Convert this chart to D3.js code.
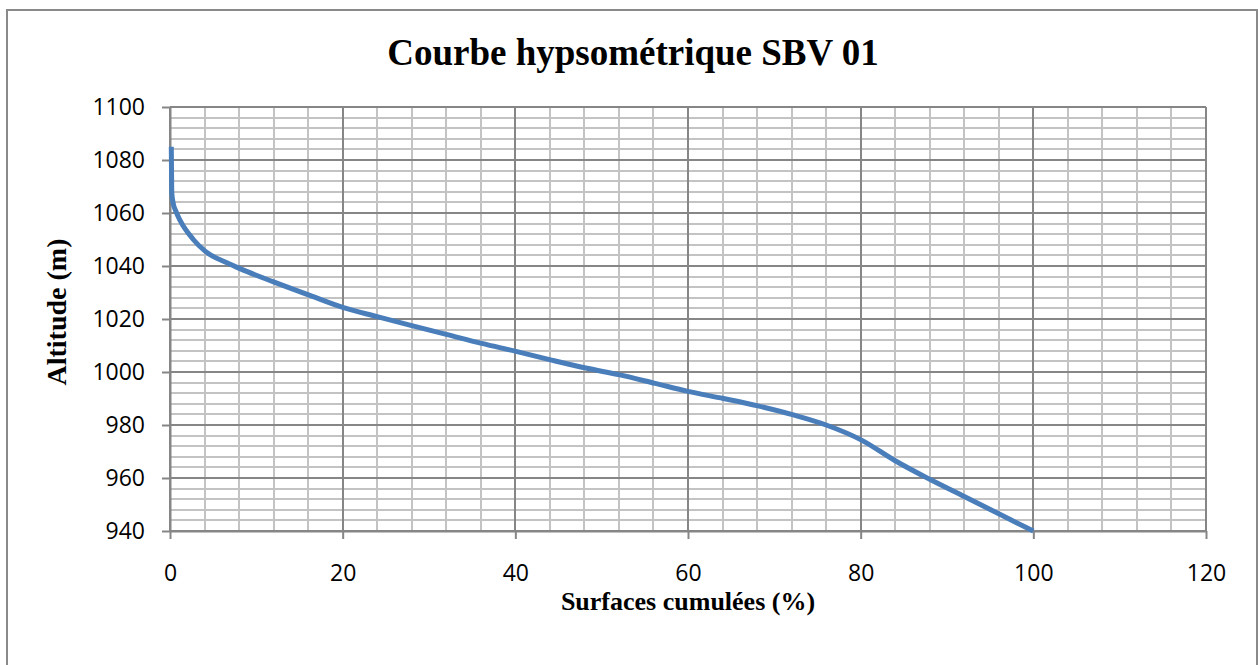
<!DOCTYPE html>
<html>
<head>
<meta charset="utf-8">
<script src="https://cdn.jsdelivr.net/npm/d3@7"></script>
<style>
  body { margin: 0; background: #fff; }
  svg { display: block; }
</style>
</head>
<body>
<div id="chart"></div>
<script>
// surfaces cumulees (%) and altitude (m)
var surfaces = [0.15, 0.2, 0.35, 0.7, 1.2, 2.7, 4.1, 6.6, 8.1, 12, 16.2, 20.1, 24, 28, 32, 36.1, 40.2, 44.2, 48.3, 52.1, 56.2, 60, 64.1, 68.1, 72.2, 76, 80.1, 84, 88, 92, 96, 100];
var altitudes = [1085, 1068, 1064, 1060.5, 1057, 1050, 1045.5, 1041.2, 1039, 1034, 1028.9, 1024.3, 1020.9, 1017.5, 1014.2, 1010.8, 1007.7, 1004.5, 1001.4, 998.9, 995.7, 992.7, 990, 987.2, 983.8, 980, 974.3, 966.5, 959.5, 953, 946.5, 940];
var xTicks = [0, 20, 40, 60, 80, 100, 120];
var yTicks = [940, 960, 980, 1000, 1020, 1040, 1060, 1080, 1100];

var width = 1258, height = 665;
var color_line = "#4a7ebb";
var color_major = "#868686";
var color_minor = "#c3c3c3";

var svg = d3.select("#chart")
    .append("svg")
    .attr("width", width)
    .attr("height", height);

// chart border
svg.append("rect")
    .attr("x", 7).attr("y", 10)
    .attr("width", 1250).attr("height", 670)
    .attr("fill", "#fff")
    .attr("stroke", "#8a8a8a")
    .attr("stroke-width", 2);

var x = d3.scaleLinear().domain([0, 120]).range([170, 1206]);
var y = d3.scaleLinear().domain([940, 1100]).range([531, 107]);

var grid = svg.append("g").attr("shape-rendering", "crispEdges");

// minor grid, every 4 units
grid.selectAll("line.minor-x")
    .data(d3.range(0, 121, 4))
    .enter().append("line")
    .attr("x1", d => x(d)).attr("x2", d => x(d))
    .attr("y1", y(940)).attr("y2", y(1100))
    .style("stroke", color_minor).style("stroke-width", 2);
grid.selectAll("line.minor-y")
    .data(d3.range(940, 1101, 4))
    .enter().append("line")
    .attr("x1", x(0)).attr("x2", x(120))
    .attr("y1", d => y(d)).attr("y2", d => y(d))
    .style("stroke", color_minor).style("stroke-width", 2);

// major grid
grid.selectAll("line.major-x")
    .data(xTicks)
    .enter().append("line")
    .attr("x1", d => x(d)).attr("x2", d => x(d))
    .attr("y1", y(940)).attr("y2", y(1100))
    .style("stroke", color_major).style("stroke-width", 2);
grid.selectAll("line.major-y")
    .data(yTicks)
    .enter().append("line")
    .attr("x1", x(0)).attr("x2", x(120))
    .attr("y1", d => y(d)).attr("y2", d => y(d))
    .style("stroke", color_major).style("stroke-width", 2);

// axes
var yAxis = d3.axisLeft(y).tickValues(yTicks).tickFormat(d3.format("d"))
    .tickSize(8).tickSizeOuter(0).tickPadding(17);
var xAxis = d3.axisBottom(x).tickValues(xTicks).tickFormat(d3.format("d"))
    .tickSize(8).tickSizeOuter(0).tickPadding(26);

var gy = svg.append("g").attr("transform", "translate(" + x(0) + ",0)").call(yAxis);
var gx = svg.append("g").attr("transform", "translate(0," + y(940) + ")").call(xAxis);

[gx, gy].forEach(g => {
    g.selectAll("path.domain").style("stroke", color_major).style("stroke-width", 2);
    g.selectAll(".tick line").style("stroke", color_major).style("stroke-width", 2);
    g.selectAll(".tick text")
        .style("font-family", "'Open Sans', sans-serif")
        .style("font-size", "23px")
        .style("fill", "#000");
});

// the curve
var line = d3.line()
    .x((d, i) => x(surfaces[i]))
    .y(d => y(d))
    .curve(d3.curveMonotoneX);

svg.append("path")
    .datum(altitudes)
    .attr("d", line)
    .style("fill", "none")
    .style("stroke", color_line)
    .style("stroke-width", 5)
    .style("stroke-linejoin", "round");

// titles
svg.append("text")
    .attr("x", 633).attr("y", 65)
    .attr("text-anchor", "middle")
    .style("font-family", "'Liberation Serif', serif")
    .style("font-weight", "bold")
    .style("font-size", "37px")
    .text("Courbe hypsométrique SBV 01");

svg.append("text")
    .attr("x", 688).attr("y", 610)
    .attr("text-anchor", "middle")
    .style("font-family", "'Liberation Serif', serif")
    .style("font-weight", "bold")
    .style("font-size", "26px")
    .text("Surfaces cumulées (%)");

svg.append("text")
    .attr("transform", "translate(66,312) rotate(-90)")
    .attr("text-anchor", "middle")
    .style("font-family", "'Liberation Serif', serif")
    .style("font-weight", "bold")
    .style("font-size", "28px")
    .text("Altitude (m)");
</script>
</body>
</html>
